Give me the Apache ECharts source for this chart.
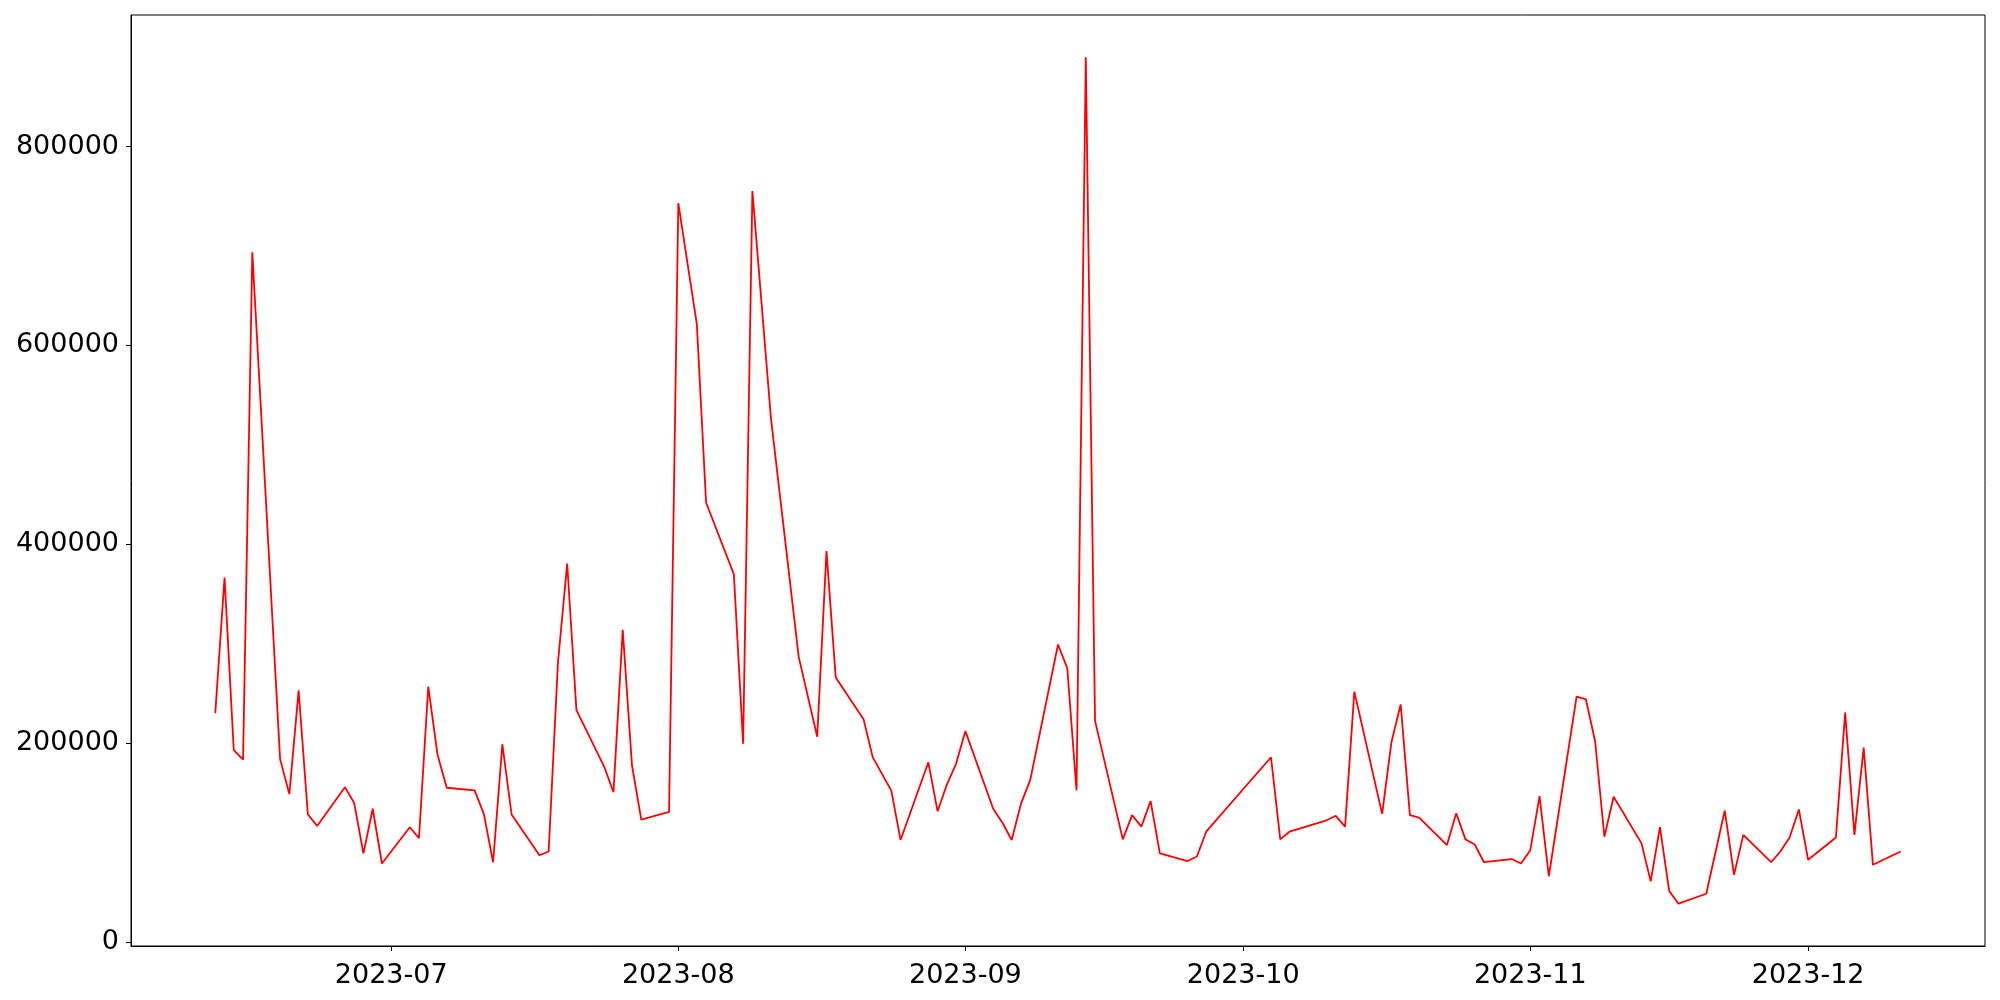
<!DOCTYPE html>
<html>
<head>
<meta charset="utf-8">
<script src="https://cdn.jsdelivr.net/npm/echarts@6/dist/echarts.min.js"></script>
<style>html,body{margin:0;padding:0;background:#fff;}#c{width:2000px;height:1000px;}</style>
</head>
<body>
<div id="c"></div>
<script>
const dates = ['2023-06-12','2023-06-13','2023-06-14','2023-06-15','2023-06-16','2023-06-19','2023-06-20','2023-06-21','2023-06-22','2023-06-23',
'2023-06-26','2023-06-27','2023-06-28','2023-06-29','2023-06-30','2023-07-03','2023-07-04','2023-07-05','2023-07-06','2023-07-07',
'2023-07-10','2023-07-11','2023-07-12','2023-07-13','2023-07-14','2023-07-17','2023-07-18','2023-07-19','2023-07-20','2023-07-21',
'2023-07-24','2023-07-25','2023-07-26','2023-07-27','2023-07-28','2023-07-31','2023-08-01','2023-08-03','2023-08-04','2023-08-07',
'2023-08-08','2023-08-09','2023-08-11','2023-08-14','2023-08-16','2023-08-17','2023-08-18','2023-08-21','2023-08-22','2023-08-24',
'2023-08-25','2023-08-28','2023-08-29','2023-08-30','2023-08-31','2023-09-01','2023-09-04','2023-09-05','2023-09-06','2023-09-07',
'2023-09-08','2023-09-11','2023-09-12','2023-09-13','2023-09-14','2023-09-15','2023-09-18','2023-09-19','2023-09-20','2023-09-21',
'2023-09-22','2023-09-25','2023-09-26','2023-09-27','2023-10-04','2023-10-05','2023-10-06','2023-10-10','2023-10-11','2023-10-12',
'2023-10-13','2023-10-16','2023-10-17','2023-10-18','2023-10-19','2023-10-20','2023-10-23','2023-10-24','2023-10-25','2023-10-26',
'2023-10-27','2023-10-30','2023-10-31','2023-11-01','2023-11-02','2023-11-03','2023-11-06','2023-11-07','2023-11-08','2023-11-09',
'2023-11-10','2023-11-13','2023-11-14','2023-11-15','2023-11-16','2023-11-17','2023-11-20','2023-11-22','2023-11-23','2023-11-24',
'2023-11-27','2023-11-28','2023-11-29','2023-11-30','2023-12-01','2023-12-04','2023-12-05','2023-12-06','2023-12-07','2023-12-08',
'2023-12-11'];
const values = [230000,366400,192800,183200,693700,183800,148600,253000,128100,116600,
155600,139600,89000,133900,78800,115300,104400,256800,188300,155000,
152400,128700,80100,198600,128100,87100,90900,280500,380500,233100,
176100,150500,313800,177400,123000,130700,743000,621300,441900,369600,
199200,755100,527100,286600,206300,393000,265800,224000,185500,152100,
102500,180600,131300,158200,179300,212000,133900,119800,102500,139000,
162700,299100,275400,152400,889700,222300,103100,127500,115900,141600,
89000,81300,85800,110800,185700,103100,110800,122300,126800,115900,
251700,128700,200500,238900,127500,124900,97400,129400,103100,98000,
80100,83300,78800,92200,146600,66000,246600,244000,201800,105700,
146000,99300,60800,115300,51200,38400,48400,132100,67400,107600,
80100,90900,105000,133200,82600,105000,230600,107600,195400,77500,
90900];
const xTickLabels = ['2023-07','2023-08','2023-09','2023-10','2023-11','2023-12'];
const yTicks = [0,200000,400000,600000,800000];

const toMs = s => { const p = s.split('-').map(Number); return Date.UTC(p[0], p[1]-1, p[2] || 1); };
const seriesData = dates.map((d,i) => [toMs(d), values[i]]);
const xTickVals = xTickLabels.map(s => toMs(s + '-01'));
const t0 = toMs(dates[0]), t1 = toMs(dates[dates.length-1]);
const xPad = (t1 - t0) * 0.05;
let vmin = Math.min(...values), vmax = Math.max(...values);
const yPad = (vmax - vmin) * 0.05;

const fmtMonth = v => { const d = new Date(v); return d.getUTCFullYear() + '-' + String(d.getUTCMonth()+1).padStart(2,'0'); };
const font = {fontFamily: 'DejaVu Sans', fontSize: 27, color: '#000'};

const chart = echarts.init(document.getElementById('c'), null, {renderer: 'canvas'});
chart.setOption({
  animation: false,
  backgroundColor: '#fff',
  grid: {left: 131, right: 15, top: 15, bottom: 54, show: true, borderColor: '#000', borderWidth: 1, containLabel: false},
  xAxis: {
    type: 'value', min: t0 - xPad, max: t1 + xPad,
    axisLine: {show: true, onZero: false, lineStyle: {color: '#000', width: 1}},
    axisTick: {show: true, length: 5, lineStyle: {color: '#000', width: 1}, customValues: xTickVals},
    axisLabel: Object.assign({margin: 16, formatter: fmtMonth, customValues: xTickVals, showMinLabel: true, showMaxLabel: true}, font),
    splitLine: {show: false}
  },
  yAxis: {
    type: 'value', min: vmin - yPad, max: vmax + yPad,
    axisLine: {show: true, onZero: false, lineStyle: {color: '#000', width: 1}},
    axisTick: {show: true, length: 5, lineStyle: {color: '#000', width: 1}, customValues: yTicks},
    axisLabel: Object.assign({margin: 12, customValues: yTicks, formatter: v => String(Math.round(v))}, font),
    splitLine: {show: false}
  },
  series: [{
    type: 'line', data: seriesData, showSymbol: false, symbol: 'none',
    lineStyle: {color: '#ff0000', width: 1.8}, silent: true
  }]
});
</script>
</body>
</html>
